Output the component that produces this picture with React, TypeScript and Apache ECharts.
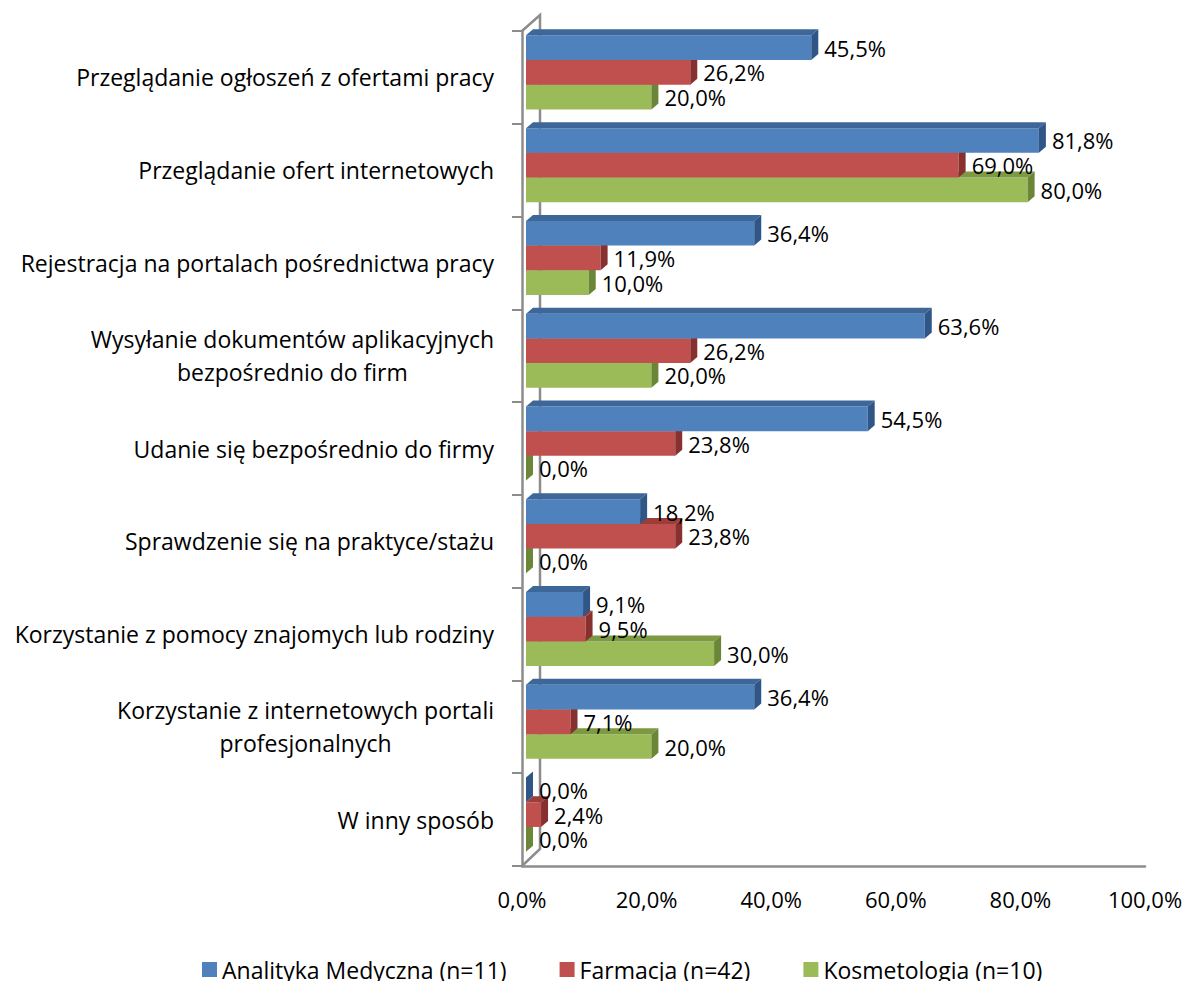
import React, { useEffect, useRef } from "react";
import * as echarts from "echarts";

const categories = [
  "Przeglądanie ogłoszeń z ofertami pracy",
  "Przeglądanie ofert internetowych",
  "Rejestracja na portalach pośrednictwa pracy",
  "Wysyłanie dokumentów aplikacyjnych\nbezpośrednio do firm",
  "Udanie się bezpośrednio do firmy",
  "Sprawdzenie się na praktyce/stażu",
  "Korzystanie z pomocy znajomych lub rodziny",
  "Korzystanie z internetowych portali\nprofesjonalnych",
  "W inny sposób",
];
const seriesNames = ["Analityka Medyczna (n=11)", "Farmacja (n=42)", "Kosmetologia (n=10)"];
const analityka = [45.5, 81.8, 36.4, 63.6, 54.5, 18.2, 9.1, 36.4, 0.0];
const farmacja = [26.2, 69.0, 11.9, 26.2, 23.8, 23.8, 9.5, 7.1, 2.4];
const kosmetologia = [20.0, 80.0, 10.0, 20.0, 0.0, 0.0, 30.0, 20.0, 0.0];
const xTicks = [0, 20, 40, 60, 80, 100];

const FONT = "'Open Sans', 'Noto Sans', sans-serif";
const FS = 23;
const FS_VAL = 22;
const fmt = (v: number) => v.toFixed(1).replace(".", ",") + "%";

const palette = [
  { front: "#4F81BD", top: "#3E6799", side: "#2F5687" },
  { front: "#C0504D", top: "#9C3D3A", side: "#87302E" },
  { front: "#9BBB59", top: "#7D9A42", side: "#6A8636" },
];

export default function App() {
  const ref = useRef<HTMLDivElement>(null);
  useEffect(() => {
    if (!ref.current) return;
    const chart = echarts.init(ref.current, undefined, { renderer: "svg" });
    const valuesList = [analityka, farmacja, kosmetologia];
    const DX = 7;
    const DY = 6;

    const makeSeries = (sIdx: number) => ({
      type: "custom",
      name: seriesNames[sIdx],
      xAxisIndex: 0,
      yAxisIndex: 0,
      itemStyle: { color: palette[sIdx].front },
      encode: { x: 0, y: 1 },
      data: valuesList[sIdx].map((v, i) => [v, i]),
      renderItem: (params: any, api: any) => {
        const v = api.value(0);
        const i = api.value(1);
        const p0 = api.coord([0, i]);
        const p1 = api.coord([v, i]);
        const band = api.size([0, 1])[1];
        const h = band * 0.266;
        const groupTop = p0[1] - 1.5 * h - 5;
        const top = groupTop + sIdx * h;
        const x0 = p0[0];
        const x1 = p1[0];
        const c = palette[sIdx];
        return {
          type: "group",
          children: [
            {
              type: "rect",
              shape: { x: x0, y: top, width: x1 - x0, height: h },
              style: { fill: c.front },
            },
            {
              type: "polygon",
              shape: { points: [[x0, top], [x0 + DX, top - DY], [x1 + DX, top - DY], [x1, top]] },
              style: { fill: c.top },
            },
            {
              type: "polygon",
              shape: { points: [[x1, top], [x1 + DX, top - DY], [x1 + DX, top + h - DY], [x1, top + h]] },
              style: { fill: c.side },
            },
            {
              type: "text",
              z2: 100,
              style: {
                x: x1 + DX + 6,
                y: top + h / 2,
                text: fmt(v),
                fill: "#000",
                fontSize: FS_VAL,
                fontFamily: FONT,
                verticalAlign: "middle",
                align: "left",
              },
            },
          ],
        };
      },
    });

    const option: any = {
      animation: false,
      backgroundColor: "#fff",
      grid: [
        { left: 526, right: 34, top: 31, bottom: 115 },
        { left: 522, right: 42, top: 31, bottom: 115 },
      ],
      xAxis: [
        { type: "value", gridIndex: 0, min: 0, max: 100, interval: 20, show: false },
        {
          type: "value",
          gridIndex: 1,
          min: 0,
          max: 100,
          interval: 20,
          axisLine: { show: true, lineStyle: { color: "#8C8C8C", width: 2.5 } },
          axisTick: { show: false },
          splitLine: { show: false },
          axisLabel: {
            margin: 22,
            color: "#000",
            fontSize: FS_VAL,
            fontFamily: FONT,
            formatter: (v: number) => (xTicks.includes(v) ? fmt(v) : ""),
          },
        },
      ],
      yAxis: [
        { type: "category", gridIndex: 0, data: categories, inverse: true, show: false },
        {
          type: "category",
          gridIndex: 1,
          data: categories,
          inverse: true,
          axisLine: { show: true, lineStyle: { color: "#8C8C8C", width: 2.5 } },
          axisTick: { show: true, length: 10, lineStyle: { color: "#8C8C8C", width: 2 } },
          axisLabel: {
            margin: 28,
            color: "#000",
            fontSize: FS,
            fontFamily: FONT,
            formatter: (v: string) => v.split("\n").map((l) => `{c|${l}}`).join("\n"),
            rich: {
              c: { align: "center", fontSize: FS, fontFamily: FONT, color: "#000", lineHeight: 33 },
            },
          },
        },
      ],
      legend: {
        data: seriesNames,
        left: 197,
        top: 953,
        icon: "rect",
        itemWidth: 15,
        itemHeight: 15,
        itemGap: 53,
        textStyle: { fontSize: FS, fontFamily: FONT, color: "#000" },
      },
      graphic: [
        {
          type: "polyline",
          shape: { points: [[522, 31], [540, 15], [540, 849], [522, 866]] },
          style: { stroke: "#8C8C8C", lineWidth: 2.5, fill: "none" },
          z: 0,
        },
      ],
      series: [makeSeries(2), makeSeries(1), makeSeries(0)],
    };
    chart.setOption(option);
    return () => chart.dispose();
  }, []);
  return <div ref={ref} style={{ width: 1187, height: 981, position: "absolute", left: 0, top: 0 }} />;
}
